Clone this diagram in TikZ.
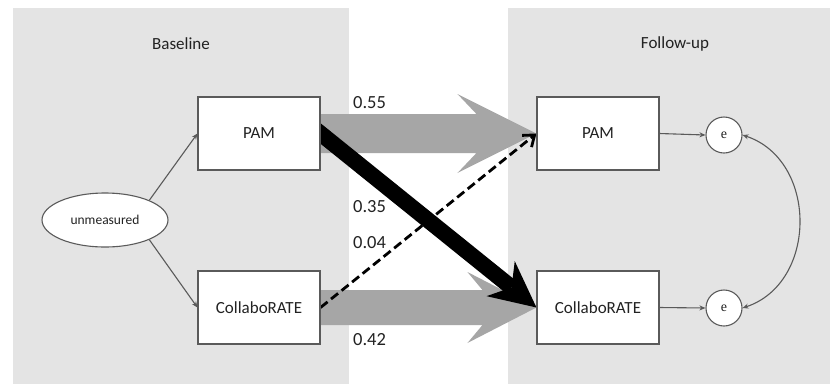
\documentclass[tikz,border=0pt]{standalone}
\usepackage{fontspec}
\setmainfont{Carlito}
\newfontfamily\efont{Liberation Serif}
\usetikzlibrary{arrows.meta,shapes.geometric,calc}
\definecolor{panel}{HTML}{E4E4E4}
\definecolor{fatgray}{HTML}{A6A6A6}
\definecolor{thingray}{HTML}{5A5A5A}
\definecolor{txt}{HTML}{222222}
\pgfdeclarelayer{bg}
\pgfsetlayers{bg,main}
\begin{document}
\begin{tikzpicture}[x=1pt,y=-1pt,
  box/.style={draw=thingray, line width=1.1pt, fill=white, minimum width=122pt, minimum height=73pt, inner sep=0pt, font=\fontsize{17}{20}\selectfont, text=txt},
  lbl/.style={anchor=west, inner sep=0pt, font=\fontsize{18.5}{22}\selectfont, text=txt},
  title/.style={inner sep=0pt, font=\fontsize{17}{20}\selectfont, text=txt},
  errc/.style={circle, draw=thingray, line width=1.1pt, fill=white, minimum size=36pt, inner sep=0pt, font=\efont\fontsize{14}{16}\selectfont, text=txt},
  thinarr/.style={draw=thingray, line width=1.1pt, -{Stealth[length=6pt,width=5pt]}},
]
\useasboundingbox (0,0) rectangle (830,384);

\node[title] (base) at (181,44) {Baseline};
\node[title] (fup) at (675,44) {Follow-up};

\node[box] (pamL) at (259,133.5) {PAM};
\node[box] (colL) at (259,307.5) {CollaboRATE};
\node[box] (pamR) at (598,133.5) {PAM};
\node[box] (colR) at (598,307.5) {CollaboRATE};

\begin{pgfonlayer}{bg}
\fill[white] (0,0) rectangle (830,384);
\fill[panel] (13,8) rectangle (349,384);
\fill[panel] (508,8) rectangle (830,384);
% gray stability arrows
\fill[fatgray] ($(pamL.east)+(0,-19.5)$) -- ($(pamR.west)+(-60,-19.5)$) -- ($(pamR.west)+(-79,-39.5)$)
  -- (pamR.west) -- ($(pamR.west)+(-79,39.5)$) -- ($(pamR.west)+(-60,19.5)$) -- ($(pamL.east)+(0,19.5)$) -- cycle;
\fill[fatgray] ($(colL.east)+(0,-17.5)$) -- ($(colR.west)+(-54,-17.5)$) -- ($(colR.west)+(-69,-35.5)$)
  -- (colR.west) -- ($(colR.west)+(-69,35.5)$) -- ($(colR.west)+(-54,17.5)$) -- ($(colL.east)+(0,17.5)$) -- cycle;
% cross-lagged paths
\draw[line width=16pt, -{Stealth[length=46pt,width=45pt,inset=14pt,line width=0pt]}] ($(pamL.east)!-12pt!(colR.west)$) -- (colR.west);
\draw[line width=2.8pt, dash pattern=on 9pt off 4.5pt, -{Straight Barb[length=10pt,width=15pt]}] (colL.east) -- (pamR.west);
\end{pgfonlayer}

\node[ellipse, draw=thingray, line width=1.1pt, fill=white, minimum width=126pt, minimum height=54pt, inner sep=0pt,
  font=\fontsize{13.5}{15}\selectfont, text=txt] (unm) at (105,220) {unmeasured};

\draw[thinarr] (unm.24) -- (pamL.west);
\draw[thinarr] (unm.-24) -- (colL.west);

\node[lbl] (l55) at (353,103) {0.55};
\node[lbl] (l35) at (353,207) {0.35};
\node[lbl] (l04) at (353,243) {0.04};
\node[lbl] (l42) at (353,340) {0.42};

\node[errc] (eT) at (724,135) {e};
\node[errc] (eB) at (724,308) {e};
\draw[thinarr] (pamR.east) -- (eT.west);
\draw[thinarr] (colR.east) -- (eB.west);
\draw[draw=thingray, line width=1.1pt, {Stealth[length=6pt,width=5pt]}-{Stealth[length=6pt,width=5pt]}]
  (eT.east) .. controls (818,160) and (818,283) .. (eB.east);
\end{tikzpicture}
\end{document}
